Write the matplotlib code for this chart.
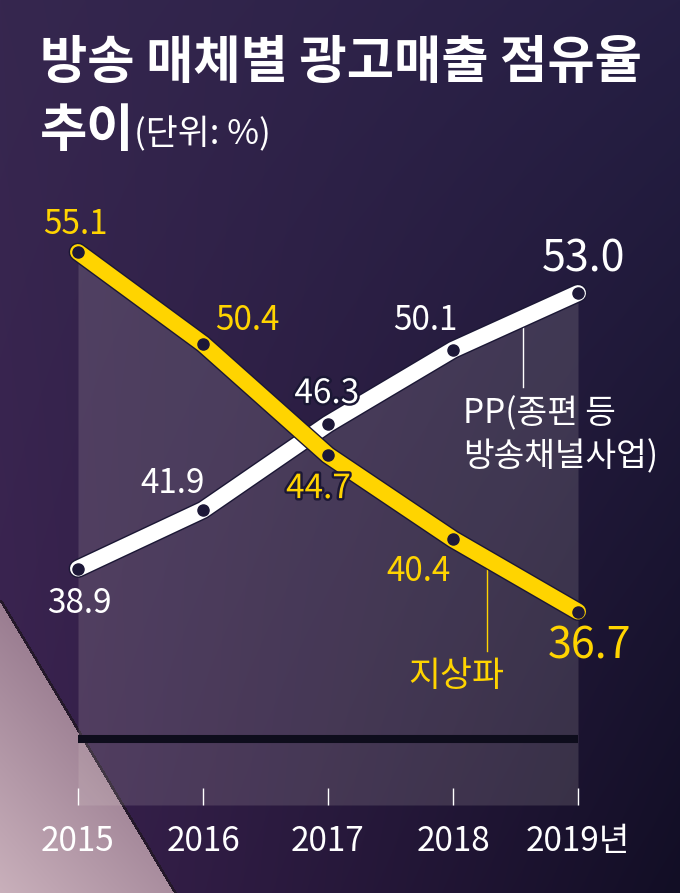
import numpy as np
import matplotlib.pyplot as plt
from matplotlib import patheffects as pe

plt.rcParams['font.family'] = ['Noto Sans CJK KR', 'DejaVu Sans']

# data
years = [2015, 2016, 2017, 2018, 2019]
year_labels = ['2015', '2016', '2017', '2018', '2019년']
terrestrial = [55.1, 50.4, 44.7, 40.4, 36.7]   # 지상파
pp = [38.9, 41.9, 46.3, 50.1, 53.0]            # PP(종편 등 방송채널사업)

# label offsets (points) from each point
terr_off = [(-2, 20), (32, 17), (-7, -24), (-25, -23), (8, -25)]
pp_off = [(1, -25), (-22, 19), (-1, 22), (-20, 21), (4, 24)]

YELLOW = '#FFD400'
NAVY = '#1b1735'
W, H = 680, 893

fig = plt.figure(figsize=(W / 100, H / 100), dpi=100)

# -------- background --------
def rgb(h):
    h = h.lstrip('#')
    return np.array([int(h[i:i + 2], 16) / 255 for i in (0, 2, 4)])

yy, xx = np.mgrid[0:1:H * 1j, 0:1:W * 1j]
tl, tr, bl, br = rgb('#36274f'), rgb('#261f44'), rgb('#3c2250'), rgb('#120e25')
img = (tl * ((1 - xx) * (1 - yy))[..., None] + tr * (xx * (1 - yy))[..., None]
       + bl * ((1 - xx) * yy)[..., None] + br * (xx * yy)[..., None])

px, py = xx * W, yy * H
tri = (py > 600) & (px < (py - 600) * 0.597)
t = np.clip(((py - 600) / 293) * 0.6 + (1 - px / 175) * 0.4, 0, 1)
light, dark = rgb('#c9b0bb'), rgb('#7a5a74')
tri_col = dark + (light - dark) * t[..., None]
img[tri] = tri_col[tri]
edge = (py > 600) & (np.abs(px - (py - 600) * 0.597) < 1.6)
img[edge] = rgb('#24182a')

bg = fig.add_axes([0, 0, 1, 1])
bg.imshow(img, extent=[0, W, H, 0], aspect='auto', interpolation='bilinear')
bg.set_xlim(0, W)
bg.set_ylim(H, 0)
bg.axis('off')

# -------- chart --------
ax = fig.add_axes([0, 88 / H, 1, 805 / H])
ax.patch.set_alpha(0)
ax.set_xlim(2014.376, 2019.816)
ax.set_ylim(26.8, 68.0)
for s in ax.spines.values():
    s.set_visible(False)

# translucent panel under the upper envelope
xs = np.linspace(years[0], years[-1], 400)
env = np.maximum(np.interp(xs, years, terrestrial), np.interp(xs, years, pp))
ax.fill_between(xs, 26.8, env, color='#ece4dc', alpha=0.15, lw=0, zorder=1)
ax.hlines(30.2, years[0], years[-1], color='#0e0d1c', lw=5.8, zorder=2)

# leader lines
ax.plot([2018.56, 2018.56], [51.5, 48.2], color='white', lw=1, zorder=2)
ax.plot([2018.27, 2018.27], [39.2, 34.7], color=YELLOW, lw=1, zorder=2)

outline = [pe.Stroke(linewidth=13.5, foreground=NAVY), pe.Normal()]
ax.plot(years, pp, color='white', lw=11.5, solid_capstyle='round',
        path_effects=outline, zorder=3)
ax.plot(years, pp, 'o', ms=8, mfc='#1d1838', mec='#1d1838', zorder=3.5)
ax.plot(years, terrestrial, color=YELLOW, lw=11.5, solid_capstyle='round',
        path_effects=outline, zorder=4)
ax.plot(years, terrestrial, 'o', ms=8, mfc='#1d1838', mec='#1d1838', zorder=4.5)

stroke = [pe.withStroke(linewidth=3.5, foreground=NAVY)]
for i, (x, v) in enumerate(zip(years, terrestrial)):
    big = i == len(years) - 1
    ax.annotate(f'{v:.1f}', (x, v), xytext=terr_off[i], textcoords='offset points',
                ha='center', va='center', color=YELLOW, fontsize=31 if big else 24,
                path_effects=stroke if i == 2 else None, zorder=6)
for i, (x, v) in enumerate(zip(years, pp)):
    big = i == len(years) - 1
    ax.annotate(f'{v:.1f}', (x, v), xytext=pp_off[i], textcoords='offset points',
                ha='center', va='center', color='white', fontsize=31 if big else 24,
                path_effects=stroke if i == 2 else None, zorder=6)

ax.text(2018.08, 46.8, 'PP(종편 등', color='white', fontsize=24, ha='left', va='center')
ax.text(2018.08, 44.6, '방송채널사업)', color='white', fontsize=24, ha='left', va='center')
ax.text(2018.03, 33.4, '지상파', color=YELLOW, fontsize=25, ha='center', va='center')

ax.set_xticks(years, year_labels)
ax.tick_params(axis='x', direction='in', length=12, width=1, colors='white',
               labelsize=24, pad=14)
ax.tick_params(axis='y', left=False, labelleft=False)

# -------- title --------
fig.text(40 / W, 1 - 78 / H, '방송 매체별 광고매출 점유율', color='white',
         fontsize=37, weight='bold', ha='left', va='baseline')
fig.text(40 / W, 1 - 146 / H, '추이', color='white',
         fontsize=37, weight='bold', ha='left', va='baseline')
fig.text(134 / W, 1 - 144 / H, '(단위: %)', color='white',
         fontsize=25, ha='left', va='baseline')

fig.savefig('out.png', dpi=100)
